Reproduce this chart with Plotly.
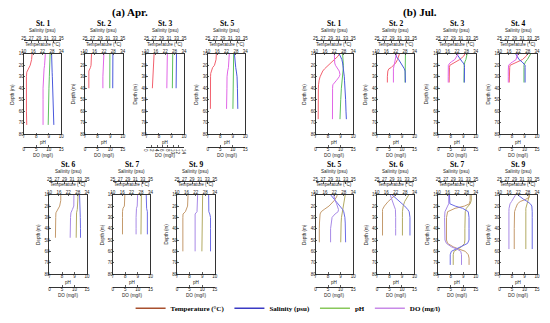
import plotly.graph_objects as go

# ---------------- data ----------------
# April
apr1_depth = [10, 15, 20, 23, 26, 30, 40, 50, 60, 72]
apr1_temp = [15.3, 15.0, 14.1, 12.9, 11.9, 11.7, 11.6, 11.6, 11.7, 11.9]
apr1_sal = [32.4, 32.4, 32.35, 32.45, 32.55, 32.6, 32.7, 32.8, 32.9, 33.0]
apr1_ph = [9.10, 9.10, 9.07, 9.07, 9.04, 9.04, 9.01, 9.00, 8.98, 8.95]
apr1_do = [8.6, 8.6, 8.3, 8.1, 8.0, 7.8, 7.7, 7.7, 7.7, 7.7]

apr2_depth = [10, 15, 20, 22, 25, 30, 40]
apr2_temp = [14.1, 14.1, 13.8, 13.4, 12.4, 12.4, 12.4]
apr2_sal = [32.4, 32.4, 32.4, 32.35, 32.35, 32.35, 32.35]
apr2_ph = [8.98, 8.98, 8.98, 8.98, 8.97, 8.97, 8.97]
apr2_do = [7.5, 7.5, 7.35, 7.3, 7.2, 7.1, 7.1]

apr3_depth = [10, 20, 30, 40]
apr3_temp = [14.9, 14.6, 14.1, 13.8]
apr3_sal = [33.0, 33.0, 32.95, 32.9]
apr3_ph = [9.10, 9.10, 9.09, 9.07]
apr3_do = [7.8, 7.8, 7.7, 7.6]

apr5_depth = [10, 15, 20, 22, 25, 27, 30, 40, 50, 58]
apr5_temp = [15.5, 15.3, 14.3, 13.1, 12.4, 11.9, 11.8, 11.7, 11.7, 11.7]
apr5_sal = [32.1, 32.2, 32.35, 32.45, 32.6, 32.7, 32.8, 32.9, 32.95, 33.0]
apr5_ph = [9.07, 9.07, 9.07, 9.07, 9.06, 9.04, 9.04, 9.03, 9.01, 9.01]
apr5_do = [8.6, 8.55, 8.5, 8.25, 7.95, 7.8, 7.7, 7.65, 7.6, 7.5]

apr6_depth = [10, 15, 20, 23, 26, 30, 40, 48]
apr6_temp = [17.2, 17.2, 16.5, 15.3, 14.1, 14.0, 13.8, 13.8]
apr6_sal = [33.0, 33.0, 33.0, 33.1, 33.2, 33.2, 33.25, 33.25]
apr6_ph = [9.28, 9.28, 9.27, 9.22, 9.16, 9.15, 9.13, 9.13]
apr6_do = [9.75, 9.75, 9.7, 9.15, 8.55, 8.4, 8.3, 8.25]

apr7_depth = [10, 15, 20, 22, 25, 30, 40, 45]
apr7_temp = [17.7, 17.7, 17.4, 16.5, 16.2, 16.2, 16.2, 16.2]
apr7_sal = [33.9, 33.9, 33.9, 34.0, 34.2, 34.2, 34.2, 34.2]
apr7_ph = [9.28, 9.28, 9.28, 9.27, 9.25, 9.25, 9.25, 9.25]
apr7_do = [9.9, 9.9, 9.75, 9.45, 9.3, 9.3, 9.3, 9.3]

apr9_depth = [10, 20, 25, 27, 30, 40, 50, 60]
apr9_temp = [17.0, 16.7, 15.3, 13.8, 13.7, 13.7, 13.7, 13.7]
apr9_sal = [33.4, 33.4, 33.45, 33.7, 33.9, 33.9, 33.9, 33.9]
apr9_ph = [9.04, 9.04, 9.03, 9.00, 8.98, 8.98, 8.98, 8.98]
apr9_do = [8.2, 8.1, 7.95, 7.2, 7.2, 7.2, 7.2, 7.2]

# July
jul1_depth = [10, 12, 15, 18, 20, 23, 25, 28, 30, 33, 35, 37, 40, 50, 60, 67]
jul1_temp = [25.1, 24.4, 22.0, 19.6, 17.7, 15.8, 14.6, 13.4, 12.9, 12.3, 12.0, 11.9, 11.8, 11.7, 11.7, 11.7]
jul1_sal = [31.3, 31.6, 32.0, 32.2, 32.3, 32.45, 32.55, 32.6, 32.65, 32.7, 32.75, 32.8, 32.85, 33.0, 33.1, 33.2]
jul1_ph = [9.16, 9.18, 9.19, 9.21, 9.22, 9.21, 9.19, 9.16, 9.13, 9.10, 9.09, 9.07, 9.06, 9.01, 8.98, 8.95]
jul1_do = [7.5, 7.5, 7.5, 7.65, 7.95, 8.7, 9.45, 9.75, 9.45, 8.4, 7.5, 6.9, 6.8, 6.75, 6.75, 6.75]

jul2_depth = [10, 13, 15, 18, 20, 22, 23, 25, 30, 35]
jul2_temp = [24.4, 23.9, 23.2, 22.0, 20.8, 19.1, 17.7, 17.0, 16.7, 16.7]
jul2_sal = [30.0, 30.3, 30.8, 31.4, 31.8, 32.1, 32.3, 32.5, 32.6, 32.6]
jul2_ph = [9.28, 9.28, 9.27, 9.27, 9.25, 9.25, 9.25, 9.25, 9.25, 9.25]
jul2_do = [7.8, 7.5, 7.2, 6.9, 6.75, 6.7, 6.6, 6.6, 6.6, 6.6]

jul3_depth = [10, 12, 15, 17, 18, 20, 22, 25, 30, 35]
jul3_temp = [27.0, 26.3, 23.7, 20.8, 19.6, 17.4, 17.2, 17.2, 17.2, 17.0]
jul3_sal = [29.9, 30.3, 30.8, 31.4, 31.7, 32.0, 32.0, 32.0, 31.95, 31.95]
jul3_ph = [9.31, 9.28, 9.21, 9.13, 9.10, 9.07, 9.07, 9.07, 9.06, 9.06]
jul3_do = [8.0, 7.5, 6.6, 5.25, 4.65, 4.05, 4.0, 4.0, 4.0, 4.0]

jul4_depth = [10, 12, 15, 17, 18, 20, 22, 25, 30, 35]
jul4_temp = [27.8, 27.0, 24.6, 21.3, 19.6, 16.7, 16.5, 16.5, 16.2, 16.2]
jul4_sal = [29.3, 29.6, 30.2, 31.0, 31.3, 31.8, 31.8, 31.8, 31.8, 31.8]
jul4_ph = [9.49, 9.40, 9.22, 9.07, 9.01, 8.95, 8.95, 8.95, 8.95, 8.95]
jul4_do = [7.2, 7.05, 6.6, 5.25, 4.5, 3.6, 3.5, 3.5, 3.5, 3.5]

jul5_depth = [10, 12, 15, 18, 20, 23, 25, 27, 30, 35, 40, 52]
jul5_temp = [23.9, 23.4, 22.0, 20.1, 18.6, 15.5, 13.6, 12.9, 12.6, 12.5, 12.4, 12.4]
jul5_sal = [29.0, 29.5, 30.3, 31.2, 31.7, 32.2, 32.5, 32.7, 32.8, 32.9, 32.95, 33.0]
jul5_ph = [9.37, 9.34, 9.28, 9.22, 9.19, 9.16, 9.13, 9.10, 9.07, 9.04, 9.03, 9.01]
jul5_do = [7.2, 7.35, 7.8, 8.4, 8.7, 9.15, 9.0, 7.8, 6.6, 6.15, 6.0, 6.0]

jul6_depth = [10, 13, 16, 20, 23, 25, 30, 40, 46]
jul6_temp = [22.0, 19.6, 17.2, 14.8, 13.6, 13.6, 13.6, 13.6, 13.6]
jul6_sal = [29.0, 30.0, 31.2, 32.4, 33.2, 33.6, 33.8, 33.8, 33.8]
jul6_ph = [9.55, 9.40, 9.22, 9.10, 9.04, 9.04, 9.04, 9.04, 9.04]
jul6_do = [5.3, 5.7, 6.3, 6.9, 7.4, 7.5, 7.5, 7.5, 7.5]

jul7_depth = [10, 15, 18, 20, 22, 25, 30, 40, 50, 53, 56, 58, 60, 63, 66, 72]
jul7_temp = [30.4, 30.4, 29.9, 26.8, 20.8, 16.0, 15.3, 15.3, 15.3, 16.0, 19.6, 23.2, 27.3, 29.2, 29.7, 29.7]
jul7_sal = [28.0, 28.0, 28.1, 29.5, 31.5, 33.0, 33.2, 33.2, 33.2, 32.8, 31.0, 29.5, 28.5, 28.2, 28.2, 28.2]
jul7_ph = [9.64, 9.64, 9.55, 9.40, 9.25, 9.16, 9.13, 9.13, 9.13, 9.10, 8.86, 8.50, 8.26, 8.20, 8.20, 8.20]
jul7_do = [4.2, 4.2, 4.2, 3.75, 3.3, 2.7, 2.55, 2.55, 2.7, 3.3, 5.25, 7.5, 9.0, 9.3, 9.3, 9.3]

jul9_depth = [10, 12, 14, 16, 18, 20, 22, 25, 30, 40, 50, 58]
jul9_temp = [27.8, 29.2, 26.8, 23.2, 21.5, 20.8, 20.3, 19.6, 19.4, 19.4, 19.4, 19.4]
jul9_sal = [29.8, 30.5, 31.4, 32.4, 33.2, 33.6, 33.7, 33.7, 33.7, 33.7, 33.7, 33.7]
jul9_ph = [9.40, 9.34, 9.28, 9.22, 9.16, 9.13, 9.10, 9.10, 9.10, 9.10, 9.10, 9.10]
jul9_do = [6.45, 6.0, 5.4, 4.8, 4.2, 3.9, 3.8, 3.75, 3.75, 3.75, 3.75, 3.75]

# axis scales and ticks
temp_range = [10, 34]
temp_ticks = [10, 16, 22, 28, 34]
sal_range = [25, 35]
sal_ticks = [25, 27, 29, 31, 33, 35]
ph_range = [7, 10]
ph_ticks = [7, 8, 9, 10]
do_range = [0, 15]
do_ticks = [0, 5, 10, 15]
do_range_alt = [0, 14]
do_ticks_alt = [0, 2, 4, 6, 8, 10, 12, 14]
depth_ticks = [10, 20, 30, 40, 50, 60, 70, 80]

panels = [
    ("St. 1", apr1_depth, apr1_temp, apr1_sal, apr1_ph, apr1_do),
    ("St. 2", apr2_depth, apr2_temp, apr2_sal, apr2_ph, apr2_do),
    ("St. 3", apr3_depth, apr3_temp, apr3_sal, apr3_ph, apr3_do),
    ("St. 5", apr5_depth, apr5_temp, apr5_sal, apr5_ph, apr5_do),
    ("St. 1", jul1_depth, jul1_temp, jul1_sal, jul1_ph, jul1_do),
    ("St. 2", jul2_depth, jul2_temp, jul2_sal, jul2_ph, jul2_do),
    ("St. 3", jul3_depth, jul3_temp, jul3_sal, jul3_ph, jul3_do),
    ("St. 4", jul4_depth, jul4_temp, jul4_sal, jul4_ph, jul4_do),
    ("St. 6", apr6_depth, apr6_temp, apr6_sal, apr6_ph, apr6_do),
    ("St. 7", apr7_depth, apr7_temp, apr7_sal, apr7_ph, apr7_do),
    ("St. 9", apr9_depth, apr9_temp, apr9_sal, apr9_ph, apr9_do),
    ("St. 5", jul5_depth, jul5_temp, jul5_sal, jul5_ph, jul5_do),
    ("St. 6", jul6_depth, jul6_temp, jul6_sal, jul6_ph, jul6_do),
    ("St. 7", jul7_depth, jul7_temp, jul7_sal, jul7_ph, jul7_do),
    ("St. 9", jul9_depth, jul9_temp, jul9_sal, jul9_ph, jul9_do),
]

# ---------------- layout / style ----------------
W, H = 550, 323
BOX_W = 38
# (left, top, bottom) of each plotting box in pixels
boxes = [
    (21, 53, 135), (83, 53, 135), (145, 53, 135), (207, 53, 135),
    (316, 53, 135), (378, 53, 135), (440, 53, 135), (502, 53, 135),
    (47, 197, 278), (111, 197, 278), (176, 197, 278),
    (316, 197, 278), (378, 197, 278), (440, 197, 278), (502, 197, 278),
]
top_colors = {"temp": "#f2606e", "sal": "#4a58dc", "ph": "#5cbf5c", "do": "#e066e6"}
bot_colors = {"temp": "#c49a6c", "sal": "#6c6ce6", "ph": "#b2aa62", "do": "#a88ae6"}
AX = "#333333"
TICKF = dict(family="Liberation Sans, Arial", size=4.5, color="#222")
TITF = dict(family="Liberation Sans, Arial", size=4.6, color="#222")


def fx(px):
    return px / W


def fy(py):
    return 1 - py / H


fig = go.Figure()
layout = {}
annotations = []

for i, (title, depth, temp, sal, ph, do) in enumerate(panels):
    left, top, bottom = boxes[i]
    right = left + BOX_W
    cols = top_colors if top < 100 else bot_colors
    kb = 4 * i + 1  # pH (base), temp, sal, do
    names = [f"x{kb + j}" if kb + j > 1 else "x" for j in range(4)]
    keys = [f"xaxis{kb + j}" if kb + j > 1 else "xaxis" for j in range(4)]
    yname = f"y{i + 1}" if i > 0 else "y"
    ykey = f"yaxis{i + 1}" if i > 0 else "yaxis"
    alt = (i == 2)

    common = dict(showgrid=False, zeroline=False, tickfont=TICKF, linecolor=AX,
                  linewidth=1, ticks="inside", ticklen=1.5, tickcolor=AX, tickwidth=0.8,
                  showline=True, fixedrange=True, ticklabelstandoff=-2)
    layout[keys[0]] = dict(common, domain=[fx(left), fx(right)], anchor=yname,
                           range=ph_range, tickvals=ph_ticks, side="bottom")
    layout[keys[1]] = dict(common, overlaying=names[0], anchor=yname, side="top",
                           range=temp_range, tickvals=temp_ticks)
    layout[keys[2]] = dict(common, overlaying=names[0], anchor="free", side="top",
                           position=fy(top - 14), range=sal_range, tickvals=sal_ticks)
    layout[keys[3]] = dict(common, overlaying=names[0], anchor="free", side="bottom",
                           position=fy(bottom + 13), range=do_range_alt if alt else do_range,
                           tickvals=do_ticks_alt if alt else do_ticks)
    layout[ykey] = dict(common, domain=[fy(bottom), fy(top)], anchor=names[0],
                        range=[80, 10], tickvals=depth_ticks, mirror=True)

    for var, vals, xn in (("temp", temp, names[1]), ("sal", sal, names[2]),
                          ("ph", ph, names[0]), ("do", do, names[3])):
        fig.add_trace(go.Scatter(x=vals, y=depth, xaxis=xn, yaxis=yname, mode="lines",
                                 line=dict(color=cols[var], width=1), showlegend=False,
                                 hoverinfo="skip"))

    cx = fx((left + right) / 2)
    annotations += [
        dict(text=f"<b>{title}</b>", x=cx, y=fy(top - 31), font=dict(family="Liberation Serif", size=7.5, color="#000")),
        dict(text="Salinity (psu)", x=cx, y=fy(top - 23.5), font=TITF),
        dict(text="Temperature (°C)", x=cx, y=fy(top - 10), font=TITF),
        dict(text="pH", x=cx, y=fy(bottom + 9), font=TITF),
        dict(text="DO (mg/l)", x=cx, y=fy(bottom + 22), font=TITF),
        dict(text="Depth (m)", x=fx(left - 11), y=fy((top + bottom) / 2), textangle=-90, font=TITF),
    ]

annotations += [
    dict(text="<b>(a) Apr.</b>", x=fx(128), y=fy(11), font=dict(family="Liberation Serif", size=11, color="#000")),
    dict(text="<b>(b) Jul.</b>", x=fx(422), y=fy(11), font=dict(family="Liberation Serif", size=11, color="#000")),
]
for a in annotations:
    a.update(xref="paper", yref="paper", showarrow=False, xanchor="center", yanchor="middle")

legend_names = ["Temperature (°C)", "Salinity (psu)", "pH", "DO (mg/l)"]
legend_colors = ["#a8502e", "#3a3ac4", "#88c85a", "#c88ae8"]
for nm, c in zip(legend_names, legend_colors):
    fig.add_trace(go.Scatter(x=[None], y=[None], mode="lines", name=nm,
                             line=dict(color=c, width=1.5), showlegend=True))

fig.update_layout(
    **layout,
    width=W, height=H, margin=dict(l=0, r=0, t=0, b=0),
    paper_bgcolor="white", plot_bgcolor="white",
    annotations=annotations,
    legend=dict(orientation="h", x=0.525, y=fy(313), xanchor="center", yanchor="middle",
                font=dict(family="Liberation Serif", size=7, color="#000", weight="bold"),
                itemwidth=30, bgcolor="rgba(0,0,0,0)"),
)
fig.write_html("out.html", config={"displayModeBar": False, "staticPlot": True},
               post_script="document.body.style.margin='0';")
